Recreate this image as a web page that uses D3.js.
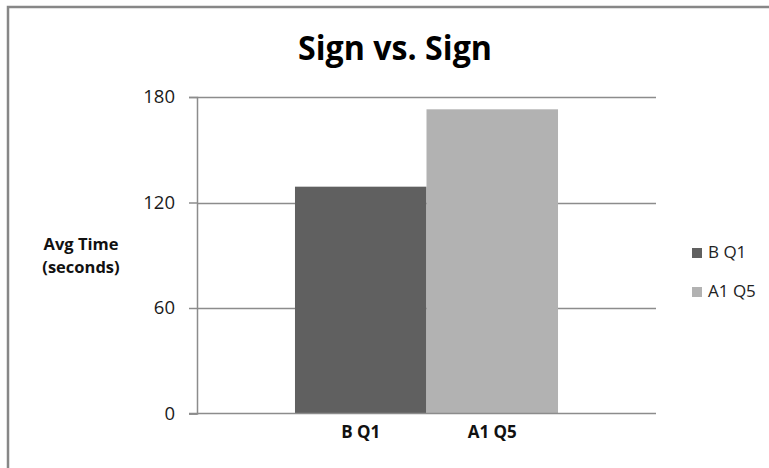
<!DOCTYPE html>
<html>
<head>
<meta charset="utf-8">
<script src="https://cdn.jsdelivr.net/npm/d3@7"></script>
<style>
  html, body { margin: 0; padding: 0; background: #fff; }
  svg { display: block; font-family: "Open Sans", "DejaVu Sans", sans-serif; }
</style>
</head>
<body>
<svg id="chart" width="769" height="468"></svg>
<script>
// Chart data
const series = ["B Q1", "A1 Q5"];
const values = [129, 173];
const colors = ["#606060", "#b2b2b2"];
const yTicks = [0, 60, 120, 180];
const title = "Sign vs. Sign";
const yLabel = ["Avg Time", "(seconds)"];

const svg = d3.select("#chart");

// Outer chart frame (runs off the right and bottom edges)
svg.append("rect")
  .attr("x", 8).attr("y", 7)
  .attr("width", 820).attr("height", 520)
  .attr("fill", "#fff")
  .attr("stroke", "#878787")
  .attr("stroke-width", 2.5);

const plot = { left: 197, right: 656, top: 97, bottom: 413.5 };

const y = d3.scaleLinear()
  .domain([0, 180])
  .range([plot.bottom, plot.top]);

const x = d3.scaleBand()
  .domain(series)
  .range([plot.left, plot.right])
  .paddingInner(0)
  .paddingOuter(0.745);

// Horizontal gridlines
svg.append("g")
  .selectAll("line")
  .data(yTicks.filter(d => d > 0))
  .join("line")
  .attr("x1", plot.left).attr("x2", plot.right)
  .attr("y1", d => Math.round(y(d)) + 0.5)
  .attr("y2", d => Math.round(y(d)) + 0.5)
  .attr("stroke", "#8c8c8c")
  .attr("stroke-width", 1.5);

// Bars
svg.append("g")
  .selectAll("rect")
  .data(series)
  .join("rect")
  .attr("x", d => x(d))
  .attr("width", x.bandwidth())
  .attr("y", (d, i) => y(values[i]))
  .attr("height", (d, i) => y(0) - y(values[i]))
  .attr("fill", (d, i) => colors[i]);

// Y axis
const yAxis = d3.axisLeft(y)
  .tickValues(yTicks)
  .tickSize(8)
  .tickPadding(14)
  .tickFormat(d3.format("d"));

const yg = svg.append("g")
  .attr("transform", `translate(${plot.left},0)`)
  .call(yAxis);
yg.select(".domain").attr("stroke", "#8c8c8c").attr("stroke-width", 1.5);
yg.selectAll(".tick line").attr("stroke", "#8c8c8c").attr("stroke-width", 1.5);
yg.selectAll(".tick text")
  .attr("fill", "#1a1a1a")
  .style("font-size", "18.5px")
  .style("font-family", "'Open Sans', sans-serif");

// Baseline
svg.append("line")
  .attr("x1", plot.left - 8).attr("x2", plot.right)
  .attr("y1", y(0)).attr("y2", y(0))
  .attr("stroke", "#8c8c8c")
  .attr("stroke-width", 1.5);

// Category labels under the bars
svg.append("g")
  .selectAll("text")
  .data(series)
  .join("text")
  .attr("x", d => x(d) + x.bandwidth() / 2)
  .attr("y", 438)
  .attr("text-anchor", "middle")
  .attr("font-weight", "bold")
  .attr("font-size", 17)
  .attr("fill", "#111")
  .text(d => d);

// Title
svg.append("text")
  .attr("x", 395)
  .attr("y", 60)
  .attr("text-anchor", "middle")
  .attr("font-weight", "bold")
  .attr("font-size", 34)
  .attr("textLength", 194)
  .attr("lengthAdjust", "spacingAndGlyphs")
  .attr("fill", "#000")
  .text(title);

// Y-axis title
svg.append("g")
  .selectAll("text")
  .data(yLabel)
  .join("text")
  .attr("x", 81)
  .attr("y", (d, i) => 250 + i * 23)
  .attr("text-anchor", "middle")
  .attr("font-weight", "bold")
  .attr("font-size", 16.5)
  .attr("fill", "#111")
  .text(d => d);

// Legend
const legend = svg.append("g")
  .selectAll("g")
  .data(series)
  .join("g")
  .attr("transform", (d, i) => `translate(692,${248 + i * 39})`);
legend.append("rect")
  .attr("width", 10).attr("height", 10)
  .attr("fill", (d, i) => colors[i]);
legend.append("text")
  .attr("x", 16).attr("y", 10)
  .attr("font-size", 17)
  .attr("fill", "#222")
  .text(d => d);
</script>
</body>
</html>
